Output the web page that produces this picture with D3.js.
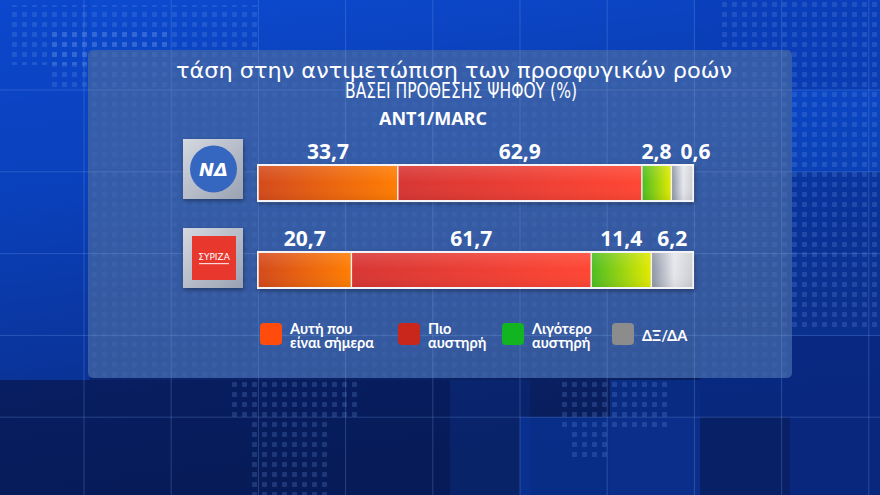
<!DOCTYPE html>
<html><head><meta charset="utf-8">
<script src="https://cdn.jsdelivr.net/npm/d3@7"></script>
<style>html,body{margin:0;padding:0;background:#0a2a80;overflow:hidden}svg{display:block}</style>
</head><body>
<svg id="c" width="880" height="495"></svg>
<script>
const parties = ["ΝΔ", "ΣΥΡΙΖΑ"];
const series = ["Αυτή που είναι σήμερα", "Πιο αυστηρή", "Λιγότερο αυστηρή", "ΔΞ/ΔΑ"];
const legendLines = [["Αυτή που", "είναι σήμερα"], ["Πιο", "αυστηρή"], ["Λιγότερο", "αυστηρή"], ["ΔΞ/ΔΑ"]];
const valuesND = [33.7, 62.9, 2.8, 0.6];
const valuesSYRIZA = [20.7, 61.7, 11.4, 6.2];
const titleLines = ["τάση στην αντιμετώπιση των προσφυγικών ροών", "ΒΑΣΕΙ ΠΡΟΘΕΣΗΣ ΨΗΦΟΥ (%)", "ANT1/MARC"];
const valueLabels = ["33,7", "62,9", "2,8", "0,6", "20,7", "61,7", "11,4", "6,2"];

const swatchColors = ["#ff4b0c", "#c9261c", "#12b422", "#8c8c8c"];
const gradStops = [
  [["0%", "#d44a1c"], ["100%", "#ff7d02"]],
  [["0%", "#d73634"], ["100%", "#ff4634"]],
  [["0%", "#4cbd22"], ["100%", "#e2ea00"]],
  [["0%", "#8e96a6"], ["55%", "#e6e7ec"], ["100%", "#cfd0d4"]]
];

const svg = d3.select("#c");
const W = 880, H = 495;
const defs = svg.append("defs");

// background
const bg = defs.append("linearGradient").attr("id", "bg").attr("x1", 0).attr("y1", 0).attr("x2", 0.25).attr("y2", 1);
bg.append("stop").attr("offset", "0%").attr("stop-color", "#0c4bd2");
bg.append("stop").attr("offset", "40%").attr("stop-color", "#0a3cae");
bg.append("stop").attr("offset", "78%").attr("stop-color", "#0a2268");
bg.append("stop").attr("offset", "100%").attr("stop-color", "#081c58");
svg.append("rect").attr("width", W).attr("height", H).attr("fill", "url(#bg)");

// tiles
const tiles = [
  [0, 0, 90, 380, "#0b44c8", 0.45],
  [695, 0, 185, 90, "#0a3cb8", 0.6],
  [790, 90, 90, 82, "#0d4fd6", 0.55],
  [790, 172, 90, 82, "#0a38a8", 0.6],
  [790, 254, 90, 82, "#0b3fb8", 0.5],
  [700, 336, 90, 81, "#083096", 0.6],
  [790, 336, 90, 81, "#0a2f98", 0.6],
  [0, 380, 450, 115, "#071a58", 0.6],
  [450, 380, 80, 115, "#0a2a7a", 0.5],
  [520, 417, 90, 78, "#0a3cae", 0.55],
  [610, 380, 90, 37, "#0a3aa8", 0.5],
  [610, 417, 90, 78, "#0b3fba", 0.5],
  [700, 417, 90, 78, "#082470", 0.6],
  [790, 417, 90, 78, "#0a3096", 0.6]
];
svg.append("g").selectAll("rect").data(tiles).join("rect")
  .attr("x", d => d[0]).attr("y", d => d[1]).attr("width", d => d[2]).attr("height", d => d[3])
  .attr("fill", d => d[4]).attr("opacity", d => d[5]);

// dot pattern
const pat = defs.append("pattern").attr("id", "dots").attr("width", 10).attr("height", 10).attr("patternUnits", "userSpaceOnUse");
pat.append("rect").attr("x", 2).attr("y", 2).attr("width", 5).attr("height", 5).attr("rx", 1).attr("fill", "#6f9be8").attr("opacity", 0.22);
const dotAreas = [[10, 5, 250, 60], [50, 30, 120, 60], [720, 0, 160, 330], [230, 380, 130, 40], [250, 420, 80, 75], [560, 380, 110, 50], [570, 430, 40, 30]];
svg.append("g").selectAll("rect").data(dotAreas).join("rect")
  .attr("x", d => d[0]).attr("y", d => d[1]).attr("width", d => d[2]).attr("height", d => d[3]).attr("fill", "url(#dots)");

// grid lines
const gx = d3.range(84, 880, 87.2), gy = d3.range(90, 495, 81.8);
const grid = svg.append("g").attr("stroke", "#7aa4f0").attr("stroke-opacity", 0.28).attr("stroke-width", 1);
grid.selectAll(".v").data(gx).join("line").attr("x1", d => d).attr("x2", d => d).attr("y1", 0).attr("y2", H);
grid.selectAll(".h").data(gy).join("line").attr("y1", d => d).attr("y2", d => d).attr("x1", 0).attr("x2", W);

// panel
svg.append("rect").attr("x", 88).attr("y", 50).attr("width", 704).attr("height", 328).attr("rx", 5)
  .attr("fill", "#3d62a6").attr("fill-opacity", 0.86);
svg.append("rect").attr("x", 88).attr("y", 50).attr("width", 704).attr("height", 328).attr("rx", 5)
  .attr("fill", "url(#dots)").attr("opacity", 0.35);
svg.append("g").attr("stroke", "#8fb2f0").attr("stroke-opacity", 0.18).selectAll("line").data(gx.filter(v => v > 88 && v < 792)).join("line")
  .attr("x1", d => d).attr("x2", d => d).attr("y1", 50).attr("y2", 378);
svg.append("g").attr("stroke", "#8fb2f0").attr("stroke-opacity", 0.18).selectAll("line").data(gy.filter(v => v > 50 && v < 378)).join("line")
  .attr("y1", d => d).attr("y2", d => d).attr("x1", 88).attr("x2", 792);

// title
const tg = svg.append("g").attr("fill", "#ffffff");
tg.append("text").attr("x", 176).attr("y", 78).attr("font-family", "DejaVu Sans").attr("font-size", 21)
  .attr("textLength", 556).attr("lengthAdjust", "spacingAndGlyphs").text(titleLines[0]);
tg.append("text").attr("x", 345).attr("y", 98).attr("font-family", "DejaVu Sans").attr("font-size", 21.5)
  .attr("textLength", 232).attr("lengthAdjust", "spacingAndGlyphs").text(titleLines[1]);
tg.append("text").attr("x", 433).attr("y", 125).attr("text-anchor", "middle").attr("font-family", "Open Sans")
  .attr("font-weight", 700).attr("font-size", 18).text(titleLines[2]);

// scales: each segment has a fixed base width plus a share proportional to its value
const barLeft = 258, barRight = 693, segBase = 19.5;
const x = d3.scaleLinear().domain([0, 100]).range([0, barRight - barLeft - 4 * segBase]);
const y = d3.scaleBand().domain(parties).range([165, 288]).paddingInner(0.586).paddingOuter(0);
const dataRows = [valuesND, valuesSYRIZA];

gradStops.forEach((st, i) => {
  const g = defs.append("linearGradient").attr("id", "g" + i).attr("x1", 0).attr("x2", 1).attr("y1", 0).attr("y2", 0);
  st.forEach(s => g.append("stop").attr("offset", s[0]).attr("stop-color", s[1]));
});
const shade = defs.append("linearGradient").attr("id", "shade").attr("x1", 0).attr("x2", 0).attr("y1", 0).attr("y2", 1);
shade.append("stop").attr("offset", "0%").attr("stop-color", "#fff").attr("stop-opacity", 0.12);
shade.append("stop").attr("offset", "50%").attr("stop-color", "#fff").attr("stop-opacity", 0);
shade.append("stop").attr("offset", "100%").attr("stop-color", "#000").attr("stop-opacity", 0.06);

const shadow = defs.append("filter").attr("id", "sh").attr("x", "-20%").attr("y", "-20%").attr("width", "140%").attr("height", "140%");
shadow.append("feDropShadow").attr("dx", 1).attr("dy", 2).attr("stdDeviation", 2).attr("flood-color", "#000").attr("flood-opacity", 0.35);

parties.forEach((p, pi) => {
  const vals = dataRows[pi];
  let cum = 0;
  const segs = vals.map((v, i) => {
    const s = { i, v, x0: barLeft + i * segBase + x(cum), x1: barLeft + (i + 1) * segBase + x(cum + v) };
    cum += v; return s;
  });
  const g = svg.append("g");
  g.append("rect").attr("x", barLeft - 1).attr("y", y(p) - 1).attr("width", barRight - barLeft + 2).attr("height", y.bandwidth() + 2)
    .attr("fill", "#f4f4f8").attr("filter", "url(#sh)");
  g.selectAll(".seg").data(segs).join("rect")
    .attr("x", d => d.x0 + 0.7).attr("y", y(p) + 1)
    .attr("width", d => Math.max(0, d.x1 - d.x0 - 1.4)).attr("height", y.bandwidth() - 2)
    .attr("fill", d => "url(#g" + d.i + ")");
  g.selectAll(".sd").data(segs).join("rect")
    .attr("x", d => d.x0 + 0.7).attr("y", y(p) + 1)
    .attr("width", d => Math.max(0, d.x1 - d.x0 - 1.4)).attr("height", y.bandwidth() - 2)
    .attr("fill", "url(#shade)");
  // label positions with collision avoidance
  const cx = segs.map(d => (d.x0 + d.x1) / 2);
  for (let i = 1; i < cx.length; i++) if (cx[i] - cx[i - 1] < 39) cx[i] = cx[i - 1] + 39;
  g.selectAll(".lbl").data(segs).join("text")
    .attr("x", (d, i) => cx[i]).attr("y", y(p) - 6)
    .attr("text-anchor", "middle").attr("fill", "#fff").attr("font-family", "Open Sans").attr("font-weight", 700)
    .attr("font-size", 21).text((d, i) => valueLabels[pi * 4 + i]);
});

// logos
const lg = defs.append("linearGradient").attr("id", "lbox").attr("x1", 0).attr("y1", 0).attr("x2", 1).attr("y2", 1);
lg.append("stop").attr("offset", "0%").attr("stop-color", "#d4d8e0");
lg.append("stop").attr("offset", "100%").attr("stop-color", "#9aa2b2");
parties.forEach((p, pi) => {
  const top = pi === 0 ? 139 : 228;
  svg.append("rect").attr("x", 183).attr("y", top).attr("width", 60).attr("height", 60)
    .attr("fill", "url(#lbox)").attr("filter", "url(#sh)");
  if (pi === 0) {
    svg.append("circle").attr("cx", 213.5).attr("cy", top + 30).attr("r", 23.5).attr("fill", "#3566c0");
    svg.append("text").attr("x", 213.5).attr("y", top + 37).attr("text-anchor", "middle").attr("fill", "#fff")
      .attr("font-family", "DejaVu Sans").attr("font-weight", 700).attr("font-style", "italic").attr("font-size", 18).text("ΝΔ");
  } else {
    svg.append("rect").attr("x", 192).attr("y", top + 8).attr("width", 44).attr("height", 44).attr("fill", "#e8382e");
    svg.append("text").attr("x", 214).attr("y", top + 32).attr("text-anchor", "middle").attr("fill", "#fff")
      .attr("font-family", "DejaVu Sans").attr("font-size", 9).text("ΣΥΡΙΖΑ");
    svg.append("rect").attr("x", 199).attr("y", top + 35).attr("width", 30).attr("height", 1.2).attr("fill", "#fff").attr("opacity", 0.8);
  }
});

// legend
const legX = [260, 398, 502, 612];
const leg = svg.append("g").selectAll("g").data(series).join("g").attr("transform", (d, i) => `translate(${legX[i]},323)`);
leg.append("rect").attr("width", 22).attr("height", 22).attr("rx", 4).attr("fill", (d, i) => swatchColors[i]);
leg.each(function (d, i) {
  const lines = legendLines[i];
  const t = d3.select(this).append("text").attr("fill", "#fff").attr("font-family", "Lato").attr("font-weight", 700).attr("font-size", 14.5);
  lines.forEach((l, k) => t.append("tspan").attr("x", 30).attr("y", lines.length === 1 ? 18 : 11 + k * 13.5).text(l));
});
</script>
</body></html>
